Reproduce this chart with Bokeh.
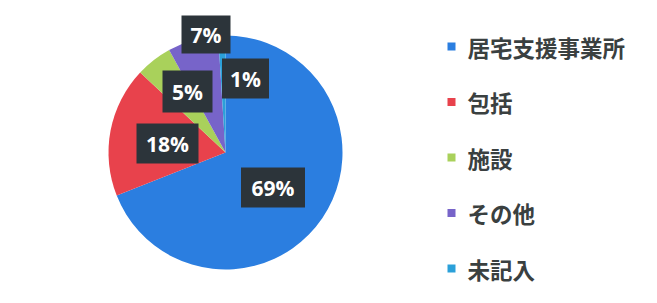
import numpy as np
from bokeh.plotting import figure
from bokeh.models import Range1d, ColumnDataSource
from bokeh.core.properties import value
from bokeh.embed import file_html
from bokeh.resources import INLINE

# ---- data ----
categories = ["居宅支援事業所", "包括", "施設", "その他", "未記入"]
percents = [69, 18, 5, 7, 1]
colors = ["#2b7ee0", "#e8424c", "#a9d15b", "#7764c9", "#2ba0d9"]
label_texts = ["69%", "18%", "5%", "7%", "1%"]

# ---- layout (pixels) ----
W, H = 641, 287
cx, cy, r = 225, 135, 117
# manual label placement (centre x, centre y, box w, box h)
label_x = [272.5, 167, 187, 205.5, 245]
label_y = [100, 144, 196, 253, 209]
box_w = [64, 62, 50, 49, 47]
box_h = [40, 40, 42, 38, 40]

vals = np.array(percents, dtype=float)
frac = vals / vals.sum()
cum = np.concatenate([[0], np.cumsum(frac)])
start = np.pi / 2 - cum[:-1] * 2 * np.pi
end = np.pi / 2 - cum[1:] * 2 * np.pi

p = figure(width=W, height=H, output_backend="svg", toolbar_location=None,
           x_range=Range1d(0, W), y_range=Range1d(0, H), min_border=0)
p.axis.visible = False
p.grid.visible = False
p.outline_line_color = None
p.background_fill_color = "white"
p.border_fill_color = "white"

src = ColumnDataSource(dict(start=start, end=end, color=colors, cat=categories))
p.wedge(x=cx, y=cy, radius=r, radius_units="screen", start_angle="start", end_angle="end",
        direction="clock", fill_color="color", line_color=None, source=src)

# data labels
lsrc = ColumnDataSource(dict(x=label_x, y=label_y, w=box_w, h=box_h, t=label_texts))
p.rect(x="x", y="y", width="w", height="h", width_units="screen", height_units="screen",
       fill_color="#2c343a", line_color=None, source=lsrc)
p.text(x="x", y="y", text="t", text_color="white", text_font=value("Open Sans"),
       text_font_size="21px", text_font_style="bold", text_align="center",
       text_baseline="middle", source=lsrc)

# legend
leg_x0, leg_y0, leg_dy = 451, 241, 55.5
ly = [leg_y0 - i * leg_dy for i in range(len(categories))]
gsrc = ColumnDataSource(dict(x=[leg_x0] * len(categories), tx=[leg_x0 + 16] * len(categories),
                             y=ly, c=colors, t=categories))
p.rect(x="x", y="y", width=8, height=8, width_units="screen", height_units="screen",
       fill_color="c", line_color=None, source=gsrc)
p.text(x="tx", y="y", text="t", text_color="#3a4040", text_font=value("Noto Sans CJK JP"),
       text_font_size="22.5px", text_font_style="bold", text_align="left",
       text_baseline="middle", source=gsrc)

open("out.html", "w").write(file_html(p, INLINE))
